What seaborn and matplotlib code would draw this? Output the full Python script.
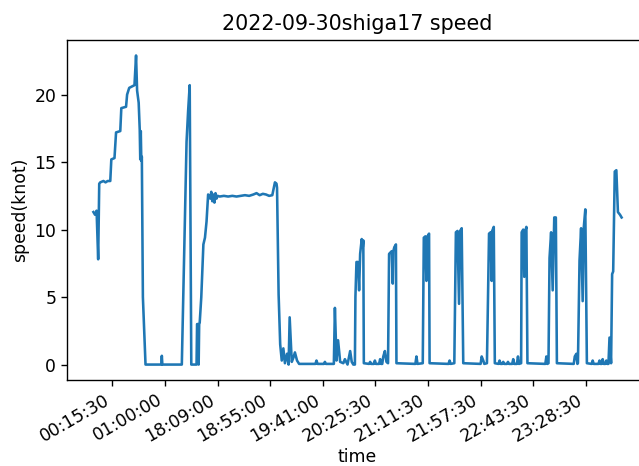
import numpy as np
import pandas as pd
import matplotlib
matplotlib.use("Agg")
import matplotlib.pyplot as plt
import seaborn as sns

# sample index along the day (non-uniform time axis, so plotted by index)
sample_idx = [
    0, 3, 6, 9, 11, 13, 19, 23, 27, 32, 34, 40, 43, 51, 53, 62, 64, 68, 78, 81,
    83, 86, 88, 89, 90, 91, 92, 94, 99, 129, 130, 131, 168, 177, 180, 183, 186,
    196, 197, 199, 200, 201, 202, 205, 209, 212, 215, 218, 220, 222, 224, 226,
    228, 230, 232, 234, 236, 240, 248, 256, 264, 272, 280, 288, 296, 304, 310,
    316, 322, 328, 334, 340, 345, 348, 349, 352, 355, 358, 361, 364, 368, 371,
    373, 377, 380, 383, 387, 391,
    422, 424, 426, 438, 440, 442, 457, 459, 462, 465, 469,
    475, 478, 483, 488, 491, 494, 497,
    498, 500, 503, 505, 507, 510, 512, 513, 514,
    524, 526, 528, 533, 535, 537, 543, 545, 547, 549, 551, 554, 557, 560,
    562, 567, 569, 570, 572, 575, 576,
    612, 614, 616, 626,
    628, 631, 633, 635, 638, 639,
    675, 677, 679, 686,
    689, 692, 695, 697, 700, 703,
    736, 738, 741, 743, 748,
    752, 755, 757, 758, 761, 763,
    770, 772, 774, 777, 779, 781, 786, 788, 790, 796, 798, 800, 805, 807, 809, 813,
    814, 817, 819, 821, 823, 825,
    859, 861, 863, 865,
    867, 870, 873, 876, 879, 881,
    913, 915, 918, 920, 921,
    924, 927, 930, 932, 935, 938,
    947, 949, 951, 960, 962, 964, 966, 968, 970, 973, 975, 977, 979,
    981, 984, 986, 988, 991, 994, 997, 1001, 1004,
]
speed = [
    11.3, 11.1, 11.4, 7.8, 13.4, 13.5, 13.6, 13.5, 13.6, 13.6, 15.2, 15.3, 17.2,
    17.3, 19.0, 19.1, 20.0, 20.5, 20.7, 22.9, 20.3, 19.4, 17.4, 15.2, 17.3,
    15.1, 15.4, 5.0, 0.0, 0.0, 0.65, 0.0, 0.0, 16.5, 18.8, 20.7, 0.0, 0.0, 3.0,
    3.0, 0.0, 3.0, 3.1, 5.0, 8.9, 9.4, 10.6, 12.6, 12.4, 12.3, 12.8, 12.1,
    12.6, 12.0, 12.7, 12.3, 12.5, 12.45, 12.5, 12.45, 12.5, 12.45, 12.5, 12.55,
    12.5, 12.6, 12.7, 12.55, 12.65, 12.6, 12.5, 12.55, 13.5, 13.4, 13.1, 5.2,
    1.5, 0.3, 1.2, 0.1, 0.8, 0.0, 3.5, 0.2, 0.5, 0.9, 0.3, 0.05,
    0.05, 0.3, 0.05, 0.05, 0.2, 0.05, 0.05, 4.2, 0.3, 1.8, 0.2,
    0.1, 0.4, 0.0, 1.0, 0.2, 0.0, 0.0,
    5.0, 7.6, 7.6, 5.5, 8.2, 9.3, 8.7, 9.2, 0.1,
    0.05, 0.2, 0.05, 0.05, 0.3, 0.05, 0.05, 0.4, 0.05, 0.05, 0.6, 1.0, 0.2, 0.1,
    8.2, 8.4, 6.0, 8.4, 8.7, 8.9, 0.1,
    0.05, 0.6, 0.05, 0.1,
    9.4, 9.5, 6.2, 9.5, 9.7, 0.1,
    0.05, 0.3, 0.05, 0.1,
    9.8, 9.9, 4.5, 9.9, 10.1, 0.1,
    0.05, 0.6, 0.3, 0.05, 0.1,
    9.7, 9.8, 6.2, 9.9, 10.2, 0.1,
    0.05, 0.3, 0.05, 0.05, 0.2, 0.05, 0.05, 0.2, 0.05, 0.05, 0.4, 0.05, 0.05, 0.6, 0.05, 0.1,
    9.8, 10.0, 6.5, 9.9, 10.2, 0.1,
    0.05, 0.6, 0.05, 0.1,
    7.9, 9.8, 5.5, 10.9, 10.9, 0.1,
    0.05, 0.6, 0.8, 0.05, 0.1,
    7.7, 10.1, 4.7, 10.1, 11.5, 0.1,
    0.05, 0.3, 0.05, 0.05, 0.3, 0.05, 0.05, 0.4, 0.05, 0.05, 0.3, 0.05, 0.05,
    2.0, 0.1, 6.7, 6.9, 14.3, 14.4, 11.3, 11.1, 10.9,
]
tick_pos = [36, 136, 236, 336, 436, 536, 636, 736, 836, 936]
tick_labels = ["00:15:30", "01:00:00", "18:09:00", "18:55:00", "19:41:00",
               "20:25:30", "21:11:30", "21:57:30", "22:43:30", "23:28:30"]

df = pd.DataFrame({"idx": sample_idx, "speed": speed})

s = 1.24
fig = plt.figure(figsize=(6.39, 4.66), dpi=100)
ax = fig.add_axes([0.1049, 0.1845, 0.9092, 0.7296])
sns.lineplot(data=df, x="idx", y="speed", ax=ax, color="#1f77b4",
             linewidth=1.5 * s)

ax.set_xticks(tick_pos)
ax.set_xticklabels(tick_labels, rotation=30, ha="right")
ax.set_yticks([0, 5, 10, 15, 20])
ax.tick_params(labelsize=10 * s, length=3.5 * s, width=0.8 * s)
for sp in ax.spines.values():
    sp.set_linewidth(0.8 * s)
ax.set_xlabel("time", fontsize=10 * s, labelpad=2)
ax.set_ylabel("speed(knot)", fontsize=10 * s)
ax.set_title("2022-09-30shiga17 speed", fontsize=12 * s, pad=6 * s)

fig.savefig("out.png", dpi=100)
